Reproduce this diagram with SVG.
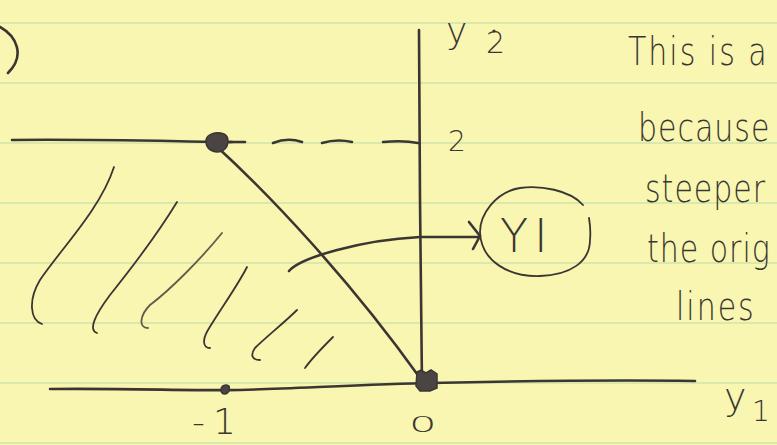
<svg xmlns="http://www.w3.org/2000/svg" width="777" height="445" viewBox="0 0 777 445">
<style>
.rule{stroke:#b9dba6;stroke-width:1.2;fill:none}
.ink{stroke:#3b3633;fill:none;stroke-linecap:round;stroke-linejoin:round}
.ax{stroke-width:2.6}
.th{stroke-width:1.8}
.blob{fill:#4a4442;stroke:#3b3633;stroke-width:1.5}
.hw{font-family:"DejaVu Sans","Liberation Sans",sans-serif;font-weight:200;fill:#3b3633}
</style>
<rect width="777" height="445" fill="#f8f6b0"/>
<g id="paper-rules">
<line class="rule" x1="0" y1="23" x2="777" y2="23"/>
<line class="rule" x1="0" y1="83" x2="777" y2="83"/>
<line class="rule" x1="0" y1="143" x2="777" y2="143"/>
<line class="rule" x1="0" y1="203" x2="777" y2="203"/>
<line class="rule" x1="0" y1="263" x2="777" y2="263"/>
<line class="rule" x1="0" y1="323" x2="777" y2="323"/>
<line class="rule" x1="0" y1="383" x2="777" y2="383"/>
<line class="rule" x1="0" y1="443" x2="777" y2="443"/>
</g>
<g id="bracket">
<path class="ink ax" d="M0,27 C16,36 26,55 8,73"/>
</g>
<g id="axes">
<path class="ink ax" d="M419,30 L420,200 L422,385"/>
<path class="ink ax" d="M50,389 C120,388 200,391 240,390 C300,388 380,384 430,383 C520,381 620,380 695,381"/>
<path class="ink ax" d="M12,140 C80,139 160,141 232,142"/>
</g>
<g id="dashes">
<path class="ink ax" d="M228,142 L245,142"/>
<path class="ink ax" d="M273,143 C283,139 293,139 302,142"/>
<path class="ink ax" d="M322,143 C332,140 343,140 352,142"/>
<path class="ink ax" d="M383,142 C395,141 408,141 418,143"/>
</g>
<g id="curve">
<path class="ink ax" d="M215,145 C270,195 350,280 420,378"/>
</g>
<g id="points">
<path class="blob" d="M206,140 C207,134 216,131 224,134 C230,137 229,148 222,151 C214,154 205,149 206,140 Z"/>
<path class="blob" d="M417,372 L421,370 L426,373 L431,370 L437,374 L437,388 L430,391 L420,391 L416,386 Z"/>
<path class="blob" d="M221,390 C221,385 226,384 229,386 C230,390 229,393 225,394 C222,394 221,392 221,390 Z"/>
</g>
<g id="hatching">
<path class="ink th" d="M114,167 C100,210 60,250 40,280 C28,300 30,320 42,324"/>
<path class="ink th" d="M177,202 C160,230 130,270 110,295 C95,315 88,330 97,333"/>
<path class="ink th" d="M222,233 C200,260 170,290 150,305 C140,315 138,328 148,328" stroke-opacity="0.8"/>
<path class="ink th" d="M247,267 C238,285 220,310 208,330 C202,340 203,348 210,348"/>
<path class="ink th" d="M297,310 C285,322 265,338 255,348 C250,355 252,360 260,360"/>
<path class="ink th" d="M333,337 C322,348 312,358 305,368"/>
</g>
<g id="connectors">
<path class="ink ax" d="M289,271 C300,258 360,240 420,237 L478,237"/>
<path class="ink ax" d="M469,222 L480,236 L473,249"/>
</g>
<g id="YI">
<path class="ink th" d="M583,205 C570,190 540,185 520,188 C495,192 480,215 480,232 C481,262 510,277 540,276 C570,275 590,262 590,240 C591,230 590,224 589,218"/>
<text class="hw" x="500" y="252" font-size="46" letter-spacing="6">YI</text>
</g>
<g id="labels">
<text class="hw" x="446" y="43" font-size="36">y</text>
<text class="hw" x="486" y="53" font-size="30">2</text>
<circle cx="494" cy="31" r="1.6" fill="#3b3633"/>
<text class="hw" x="448" y="151" font-size="28">2</text>
<text class="hw" x="192" y="434" font-size="36" letter-spacing="8">-1</text>
<text class="hw" x="0" y="0" font-size="30" transform="translate(409,432) scale(1.45,0.7)">0</text>
<text class="hw" x="724" y="410" font-size="38">y</text>
<text class="hw" x="752" y="421" font-size="28">1</text>
</g>
<g id="note">
<text class="hw" font-size="30" letter-spacing="2" transform="translate(628,65) scale(1,1.3)">This is a</text>
<text class="hw" font-size="30" letter-spacing="1" transform="translate(638,141) scale(1,1.3)">because</text>
<text class="hw" font-size="30" letter-spacing="1" transform="translate(645,202) scale(1,1.3)">steeper</text>
<text class="hw" font-size="30" letter-spacing="1" transform="translate(647,262) scale(1,1.3)">the orig</text>
<text class="hw" font-size="30" letter-spacing="2" transform="translate(676,320) scale(1,1.3)">lines</text>
</g>
</svg>
